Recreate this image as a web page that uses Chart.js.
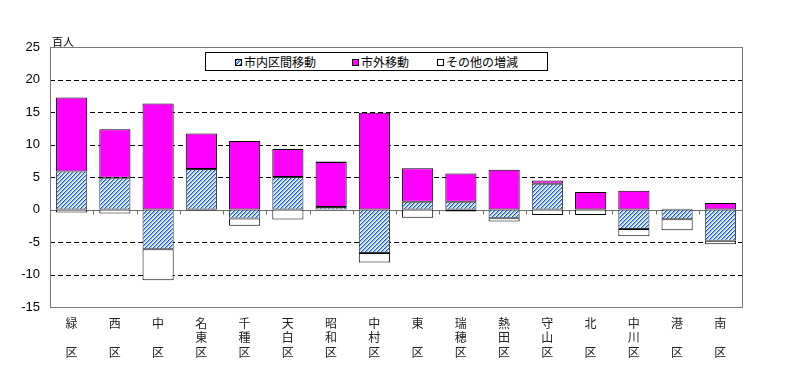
<!DOCTYPE html>
<html><head><meta charset="utf-8">
<script src="https://cdn.jsdelivr.net/npm/chart.js@4/dist/chart.umd.min.js"></script>
<style>
html,body{margin:0;padding:0;background:#fff;}
#wrap{position:relative;width:786px;height:378px;overflow:hidden;}
#c{position:absolute;left:0;top:0;}
.unit{position:absolute;left:52px;top:35px;font:11px "Noto Sans CJK JP",sans-serif;color:#000;line-height:12px;}
.lg{position:absolute;left:205px;top:52px;width:341px;height:17px;border:1px solid #000;background:#fff;}
.it{position:absolute;top:0;font:12px "Noto Sans CJK JP",sans-serif;color:#000;line-height:17px;white-space:nowrap;}
.mk{display:inline-block;width:5px;height:5px;border:1px solid #000;margin-right:2px;vertical-align:1px;}
</style></head>
<body><div id="wrap"><canvas id="c" width="786" height="378"></canvas>
<div class="unit">百人</div>
<div class="lg">
<div class="it" style="left:29px"><span class="mk" style="background:repeating-linear-gradient(-45deg,#1f4fe0 0 1px,#7db4f5 1px 2px,#fff 2px 3px)"></span>市内区間移動</div>
<div class="it" style="left:146px"><span class="mk" style="background:#ff00ff"></span>市外移動</div>
<div class="it" style="left:231px"><span class="mk" style="background:#fff"></span>その他の増減</div>
</div>
</div>
<script>
const categories = [['緑','','区'],['西','','区'],['中','','区'],['名','東','区'],['千','種','区'],['天','白','区'],['昭','和','区'],['中','村','区'],['東','','区'],['瑞','穂','区'],['熱','田','区'],['守','山','区'],['北','','区'],['中','川','区'],['港','','区'],['南','','区']];
const seriesNames = ['市内区間移動','市外移動','その他の増減'];
const intraCity = [5.85,4.9,-6.1,6.25,-1.4,5.0,0.4,-6.7,1.2,1.2,-1.35,3.95,0,-3.0,-1.5,-4.8];
const outerCity = [11.4,7.45,16.3,5.45,10.55,4.3,6.9,14.9,5.15,4.35,6.1,0.5,2.7,2.9,0.1,1.0];
const otherChange = [-0.45,-0.6,-4.8,-0.15,-1.1,-1.55,0.1,-1.45,-1.25,-0.3,-0.5,-0.85,-0.85,-1.1,-1.7,-0.55];
const yMin = -15, yMax = 25, yStep = 5;

const canvas = document.getElementById('c');
const ctx = canvas.getContext('2d');

// hatch pattern
const tile = document.createElement('canvas');
tile.width = 4; tile.height = 4;
const tctx = tile.getContext('2d');
const hatchCols = ['#1f4fe0', '#7db4f5', '#c9e0fa', '#ffffff'];
for (let x = 0; x < 4; x++) for (let y = 0; y < 4; y++) {
  tctx.fillStyle = hatchCols[(x + y) % 4];
  tctx.fillRect(x, y, 1, 1);
}
const hatch = ctx.createPattern(tile, 'repeat');

const gridPlugin = {
  id: 'gridPlugin',
  beforeDatasetsDraw(chart) {
    const {ctx, chartArea: a, scales: {x, y}} = chart;
    ctx.save();
    y.ticks.forEach(t => {
      if (t.value === 0 || t.value === yMin || t.value === yMax) return;
      const py = Math.round(y.getPixelForValue(t.value)) + 0.5;
      ctx.strokeStyle = '#000';
      ctx.lineWidth = 1;
      ctx.setLineDash([5, 3]);
      ctx.beginPath(); ctx.moveTo(a.left, py); ctx.lineTo(a.right, py); ctx.stroke();
    });
    ctx.setLineDash([]);
    const zy = Math.round(y.getPixelForValue(0)) + 0.5;
    ctx.strokeStyle = '#6e6e6e';
    ctx.beginPath(); ctx.moveTo(a.left, zy); ctx.lineTo(a.right, zy); ctx.stroke();
    for (let i = 0; i < categories.length - 1; i++) {
      const px = Math.round((x.getPixelForValue(i) + x.getPixelForValue(i + 1)) / 2) + 0.5;
      ctx.beginPath(); ctx.moveTo(px, zy); ctx.lineTo(px, zy + 4); ctx.stroke();
    }
    ctx.restore();
  },
  afterDraw(chart) {
    const {ctx, chartArea: a} = chart;
    ctx.save();
    ctx.strokeStyle = '#7a7a7a';
    ctx.lineWidth = 1;
    ctx.strokeRect(Math.round(a.left) + 0.5, Math.round(a.top) + 0.5, Math.round(a.right - a.left), Math.round(a.bottom - a.top));
    ctx.restore();
  }
};

new Chart(canvas, {
  type: 'bar',
  data: {
    labels: categories,
    datasets: [
      {label: seriesNames[0], data: intraCity, backgroundColor: hatch, borderColor: '#303030', borderWidth: 1, borderSkipped: false},
      {label: seriesNames[1], data: outerCity, backgroundColor: '#ff00ff', borderColor: '#000', borderWidth: 1, borderSkipped: false},
      {label: seriesNames[2], data: otherChange, backgroundColor: '#ffffff', borderColor: '#000', borderWidth: 1, borderSkipped: false}
    ]
  },
  options: {
    responsive: false,
    animation: false,
    devicePixelRatio: 1,
    layout: {padding: {left: 0, right: 44, top: 47, bottom: 0}},
    datasets: {bar: {barPercentage: 0.72, categoryPercentage: 1}},
    plugins: {legend: {display: false}, tooltip: {enabled: false}},
    scales: {
      x: {
        stacked: true,
        grid: {display: false, drawTicks: false},
        border: {display: false},
        ticks: {color: '#222', padding: 9, maxRotation: 0, autoSkip: false,
          font: {family: '"Noto Sans CJK JP", sans-serif', size: 12, lineHeight: 1.2}},
        afterFit(s) { s.height = 71; }
      },
      y: {
        stacked: true,
        min: yMin, max: yMax,
        grid: {display: false, drawTicks: false},
        border: {display: false},
        ticks: {stepSize: yStep, color: '#000', padding: 10,
          font: {family: '"Liberation Sans", Arial, sans-serif', size: 13}},
        afterFit(s) { s.width = 50; }
      }
    }
  },
  plugins: [gridPlugin]
});
</script>
</body></html>
